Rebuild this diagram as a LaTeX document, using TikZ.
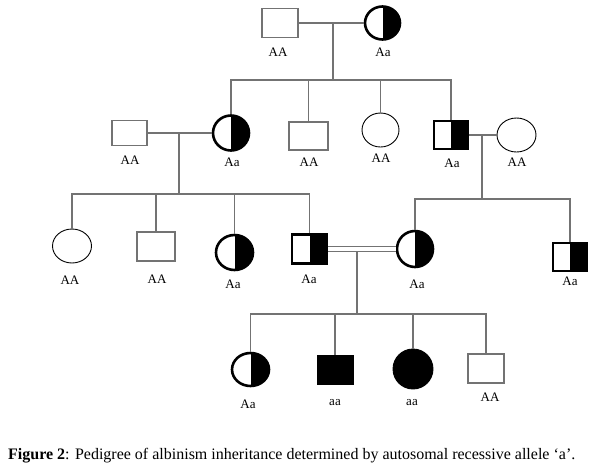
\documentclass[tikz,border=0pt]{standalone}
\usepackage{fontspec}
\setmainfont{Liberation Serif}
\usetikzlibrary{shapes.geometric}

\tikzset{
    link/.style={draw=black!55,line width=1.4pt},
    male/.style={rectangle,draw=black!55,line width=1.4pt,minimum width=36,minimum height=29,inner sep=0},
    female/.style={ellipse,draw=black,line width=0.9pt,minimum width=37,minimum height=34,inner sep=0},
    carrier/.style={draw=black,line width=2.6pt,
        path picture={\fill[black] (path picture bounding box.north) rectangle (path picture bounding box.south east);}},
    affected/.style={draw=black,fill=black,line width=0.9pt},
    geno/.style={anchor=base,font=\fontsize{13}{15}\selectfont,inner sep=0}
}

\begin{document}
\begin{tikzpicture}[x=1pt,y=-1pt]
        \useasboundingbox (0,0) rectangle (599,469);
        \node[male] (m1) at (280,23) {};
        \node[female,carrier,minimum width=35,minimum height=33] (f1) at (382.5,23) {};
        \node[male,minimum width=35,minimum height=25] (m2a) at (129.5,133) {};
        \node[female,carrier,minimum width=36,minimum height=35] (f2a) at (231,133) {};
        \node[male,minimum width=39,minimum height=28] (m2b) at (308.5,136) {};
        \node[female] (f2c) at (380.5,130) {};
        \node[male,carrier,minimum width=34,minimum height=28] (m2d) at (451,135) {};
        \node[female,minimum width=39] (w2) at (516.5,135) {};
        \node[female,minimum width=39] (f3a) at (72,246) {};
        \node[male,minimum width=38] (m3b) at (156,246.5) {};
        \node[female,carrier,minimum height=35] (f3c) at (234.5,252.5) {};
        \node[male,carrier,minimum width=35] (m3d) at (309.5,249) {};
        \node[female,carrier,minimum width=36,minimum height=36] (f3e) at (415,249) {};
        \node[male,carrier,minimum width=34,minimum height=28] (m3f) at (570,257) {};
        \node[female,carrier,minimum height=33] (f4a) at (250.5,369.5) {};
        \node[male,affected] (m4b) at (335,369.5) {};
        \node[female,affected,minimum width=40,minimum height=40] (f4c) at (413,369) {};
        \node[male] (m4d) at (486,368.5) {};
        \node[geno] (l1a) at (278,56) {AA};
        \node[geno] (l1b) at (383,56) {Aa};
        \node[geno] (l2a) at (130,164) {AA};
        \node[geno] (l2b) at (232,166) {Aa};
        \node[geno] (l2c) at (309,166) {AA};
        \node[geno] (l2d) at (381,162) {AA};
        \node[geno] (l2e) at (452,167) {Aa};
        \node[geno] (l2f) at (517,166) {AA};
        \node[geno] (l3a) at (70,284) {AA};
        \node[geno] (l3b) at (157,283) {AA};
        \node[geno] (l3c) at (233,288) {Aa};
        \node[geno] (l3d) at (309,283) {Aa};
        \node[geno] (l3e) at (417,288) {Aa};
        \node[geno] (l3f) at (570,285) {Aa};
        \node[geno] (l4a) at (248,408) {Aa};
        \node[geno] (l4b) at (335,405) {aa};
        \node[geno] (l4c) at (412,405) {aa};
        \node[geno] (l4d) at (490,401) {AA};
        \coordinate (u1) at (333,23);
        \coordinate (s1) at (333,80);
        \coordinate (u2) at (179,133);
        \coordinate (s2) at (179,194);
        \coordinate (u3) at (482,135);
        \coordinate (s3) at (482,199);
        \coordinate (u4) at (357,251.5);
        \coordinate (s4) at (357,314);
        \draw[link] (m1.east) -- (f1.west);
        \draw[link] (u1) -- (s1);
        \foreach \c in {f2a,m2b,f2c,m2d} \draw[link] (\c.north) |- (s1);
        \draw[link] (m2a.east) -- (f2a.west);
        \draw[link] (u2) -- (s2);
        \foreach \c in {f3a,m3b,f3c,m3d} \draw[link] (\c.north) |- (s2);
        \draw[link] (m2d.east) -- (w2.west);
        \draw[link] (u3) -- (s3);
        \foreach \c in {f3e,m3f} \draw[link] (\c.north) |- (s3);
        \draw[draw=black!55,line width=1.1pt,double=white,double distance=3.5pt] (m3d.east) -- (f3e.west);
        \draw[link] (u4) -- (s4);
        \foreach \c in {f4a,m4b,f4c,m4d} \draw[link] (\c.north) |- (s4);
        \node[anchor=base west,inner sep=0,font=\fontsize{16}{18}\selectfont] (cap) at (8,459)
            {\textbf{Figure 2}: Pedigree of albinism inheritance determined by autosomal recessive allele ‘a’.};
\end{tikzpicture}
\end{document}
